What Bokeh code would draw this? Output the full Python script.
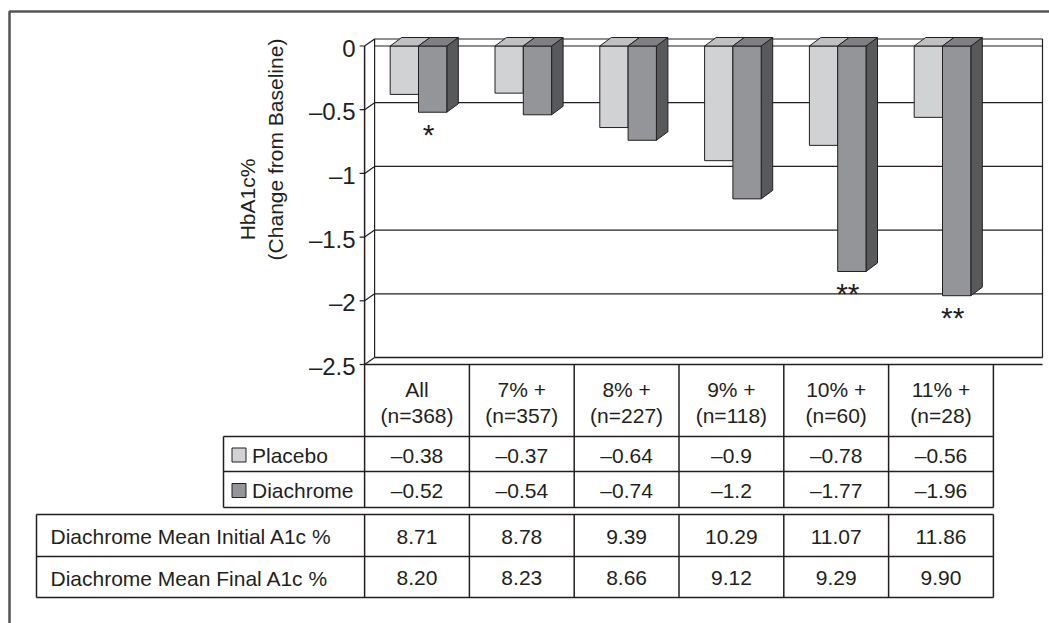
from math import pi
from bokeh.plotting import figure
from bokeh.models import Range1d
from bokeh.core.properties import value
from bokeh.embed import file_html
from bokeh.resources import INLINE

# ---------------- data ----------------
categories = ["All", "7% +", "8% +", "9% +", "10% +", "11% +"]
n_counts = [368, 357, 227, 118, 60, 28]
placebo = [-0.38, -0.37, -0.64, -0.9, -0.78, -0.56]
diachrome = [-0.52, -0.54, -0.74, -1.2, -1.77, -1.96]
significance = ["*", "", "", "", "**", "**"]
initial_a1c = [8.71, 8.78, 9.39, 10.29, 11.07, 11.86]
final_a1c = [8.20, 8.23, 8.66, 9.12, 9.29, 9.90]
y_ticks = [0, -0.5, -1, -1.5, -2, -2.5]
series_names = ["Placebo", "Diachrome"]
row_labels = ["Diachrome Mean Initial A1c %", "Diachrome Mean Final A1c %"]
y_title = ["HbA1c%", "(Change from Baseline)"]

# ---------------- layout constants ----------------
W, H = 1049, 623
CAT_PX = 104.8      # pixels per category
CAT0 = 416.5        # pixel x of first category centre
UNIT_PX = 127.4     # pixels per value unit
ZERO_Y = 45.5       # pixel y of value 0
FONT = value("Liberation Sans")
INK = "#231f20"
FS = "21px"

PLACEBO_FRONT, PLACEBO_TOP, PLACEBO_SIDE = "#d1d2d4", "#bfc0c2", "#8a8b8d"
DIA_FRONT, DIA_TOP, DIA_SIDE = "#939598", "#7f8083", "#58595b"


def cat_px(c):
    return CAT0 + c * CAT_PX


def fmt_neg(v):
    s = format(abs(v), "g")
    return ("\u2013" + s) if v < 0 else s


p = figure(width=W, height=H,
           x_range=Range1d(-CAT0 / CAT_PX, (W - CAT0) / CAT_PX),
           y_range=Range1d(-(H - ZERO_Y) / UNIT_PX, ZERO_Y / UNIT_PX),
           output_backend="svg", toolbar_location=None, min_border=0)
p.extra_x_ranges = {"px": Range1d(0, W)}
p.extra_y_ranges = {"px": Range1d(H, 0)}
p.xaxis.visible = False
p.yaxis.visible = False
p.grid.visible = False
p.outline_line_color = None
p.background_fill_color = "white"
p.border_fill_color = "white"

# ---------------- outer frame ----------------
p.line([9, 9, W], [H, 11, 11], x_range_name="px", y_range_name="px",
       line_color="#555555", line_width=2.5)

# ---------------- 3D walls ----------------
wdx, wdy = 10 / CAT_PX, 7 / UNIT_PX
ymax, ymin = y_ticks[0], y_ticks[-1]
xl = -0.5
xr_front = (1032 - CAT0) / CAT_PX
xl_b, xr_b = xl + wdx, xr_front + wdx

# back wall outline
p.line([xl_b, xl_b, xr_b, xr_b], [ymin + wdy, ymax + wdy, ymax + wdy, ymin + wdy],
       line_color=INK, line_width=1.2)
# zero level line
p.segment(x0=[xl_b], y0=[ymax], x1=[xr_b], y1=[ymax], line_color=INK, line_width=1.2)
# back-wall gridlines
grid_vals = y_ticks[1:-1]
p.segment(x0=[xl_b] * len(grid_vals), y0=[v + wdy for v in grid_vals],
          x1=[xr_b] * len(grid_vals), y1=[v + wdy for v in grid_vals],
          line_color=INK, line_width=1.2)
# floor
p.segment(x0=[xl_b, xl], y0=[ymin + wdy, ymin], x1=[xr_b, xr_b], y1=[ymin + wdy, ymin],
          line_color=INK, line_width=1.5)
# front axis line
p.segment(x0=[xl], y0=[ymax], x1=[xl], y1=[ymin], line_color=INK, line_width=1.5)
# ticks + depth connectors
tick_len = 5 / CAT_PX
p.segment(x0=[xl - tick_len] * len(y_ticks), y0=y_ticks, x1=[xl] * len(y_ticks), y1=y_ticks,
          line_color=INK, line_width=1.2)
p.segment(x0=[xl] * len(y_ticks), y0=y_ticks, x1=[xl_b] * len(y_ticks),
          y1=[v + wdy for v in y_ticks], line_color=INK, line_width=1.2)
# tick labels
p.text(x=[xl] * len(y_ticks), y=y_ticks, text=[fmt_neg(v) for v in y_ticks],
       x_offset=-9, y_offset=2, text_align="right", text_baseline="middle",
       text_font=FONT, text_font_size="24px", text_color=INK)
# axis title
p.text(x=[247, 275], y=[199, 149], text=y_title, angle=pi / 2,
       x_range_name="px", y_range_name="px", text_align="center", text_baseline="middle",
       text_font=FONT, text_font_size="21px", text_color=INK)

# ---------------- 3D bars ----------------
bar_w = 28.3 / CAT_PX
shift = 1.5 / CAT_PX
bdx, bdy = 11.5 / CAT_PX, 8.5 / UNIT_PX


def bar_faces(x0s, x1s, vals):
    front_x, front_y, top_x, top_y, side_x, side_y = [], [], [], [], [], []
    for x0, x1, v in zip(x0s, x1s, vals):
        front_x.append([x0, x1, x1, x0])
        front_y.append([0, 0, v, v])
        top_x.append([x0, x1, x1 + bdx, x0 + bdx])
        top_y.append([0, 0, bdy, bdy])
        side_x.append([x1, x1 + bdx, x1 + bdx, x1])
        side_y.append([0, bdy, v + bdy, v])
    return front_x, front_y, top_x, top_y, side_x, side_y


idx = list(range(len(categories)))
for vals, xs0, xs1, cols in [
    (placebo, [i + shift - bar_w for i in idx], [i + shift for i in idx],
     (PLACEBO_FRONT, PLACEBO_TOP, PLACEBO_SIDE)),
    (diachrome, [i + shift for i in idx], [i + shift + bar_w for i in idx],
     (DIA_FRONT, DIA_TOP, DIA_SIDE)),
]:
    fx, fy, tx, ty, sx, sy = bar_faces(xs0, xs1, vals)
    p.patches(sx, sy, fill_color=cols[2], line_color=INK, line_width=1)
    p.patches(fx, fy, fill_color=cols[0], line_color=INK, line_width=1)
    p.patches(tx, ty, fill_color=cols[1], line_color=INK, line_width=1)

# significance markers
p.text(x=[i + shift + bar_w / 2 - 4 / CAT_PX for i in idx], y=diachrome, text=significance,
       y_offset=22, text_align="center", text_baseline="middle",
       text_font=FONT, text_font_size="30px", text_color=INK)

# ---------------- data table ----------------
bounds_px = [cat_px(i - 0.5) for i in range(len(categories) + 1)]
T_TOP, T_HDR, T_R1, T_R2 = 364, 436, 471, 507
LEG_L = 223
L_TOP, L_MID, L_BOT, L_LEFT = 514, 556, 597, 36
right_px = bounds_px[-1]

# header + legend rows
p.segment(x0=bounds_px, y0=[T_TOP] * len(bounds_px), x1=bounds_px, y1=[T_R2] * len(bounds_px),
          x_range_name="px", y_range_name="px", line_color=INK, line_width=1.5)
p.segment(x0=[LEG_L] * 3, y0=[T_HDR, T_R1, T_R2], x1=[right_px] * 3, y1=[T_HDR, T_R1, T_R2],
          x_range_name="px", y_range_name="px", line_color=INK, line_width=1.5)
p.segment(x0=[LEG_L], y0=[T_HDR], x1=[LEG_L], y1=[T_R2],
          x_range_name="px", y_range_name="px", line_color=INK, line_width=1.5)

p.text(x=idx, y=[389] * len(idx), text=categories, y_range_name="px",
       text_align="center", text_baseline="middle", text_font=FONT,
       text_font_size=FS, text_color=INK)
p.text(x=idx, y=[415] * len(idx), text=[f"(n={n})" for n in n_counts], y_range_name="px",
       text_align="center", text_baseline="middle", text_font=FONT,
       text_font_size=FS, text_color=INK)

row_y = [(T_HDR + T_R1) / 2 + 1, (T_R1 + T_R2) / 2 + 1]
p.rect(x=[238.5, 238.5], y=[row_y[0], row_y[1]], width=14, height=14,
       x_range_name="px", y_range_name="px",
       fill_color=[PLACEBO_FRONT, DIA_FRONT], line_color=INK, line_width=1)
p.text(x=[251.5, 251.5], y=row_y, text=series_names, x_range_name="px", y_range_name="px",
       text_align="left", text_baseline="middle", text_font=FONT,
       text_font_size=FS, text_color=INK)
for vals, yy in [(placebo, row_y[0]), (diachrome, row_y[1])]:
    p.text(x=idx, y=[yy] * len(idx), text=[fmt_neg(v) for v in vals], y_range_name="px",
           text_align="center", text_baseline="middle", text_font=FONT,
           text_font_size=FS, text_color=INK)

# lower table
lx = [L_LEFT] + bounds_px
p.segment(x0=lx, y0=[L_TOP] * len(lx), x1=lx, y1=[L_BOT] * len(lx),
          x_range_name="px", y_range_name="px", line_color=INK, line_width=1.5)
p.segment(x0=[L_LEFT] * 3, y0=[L_TOP, L_MID, L_BOT], x1=[right_px] * 3, y1=[L_TOP, L_MID, L_BOT],
          x_range_name="px", y_range_name="px", line_color=INK, line_width=1.5)
low_y = [(L_TOP + L_MID) / 2 + 1, (L_MID + L_BOT) / 2 + 1]
p.text(x=[50, 50], y=low_y, text=row_labels, x_range_name="px", y_range_name="px",
       text_align="left", text_baseline="middle", text_font=FONT,
       text_font_size=FS, text_color=INK)
for vals, yy in [(initial_a1c, low_y[0]), (final_a1c, low_y[1])]:
    p.text(x=idx, y=[yy] * len(idx), text=[f"{v:.2f}" for v in vals], y_range_name="px",
           text_align="center", text_baseline="middle", text_font=FONT,
           text_font_size=FS, text_color=INK)

open("out.html", "w").write(file_html(p, INLINE))
